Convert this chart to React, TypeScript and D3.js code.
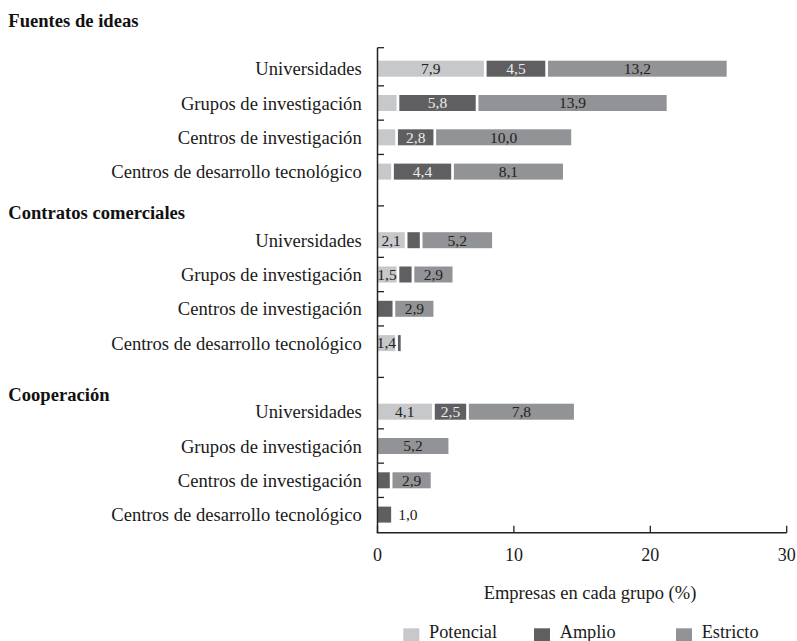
import React from "react";
import * as d3 from "d3";

// ---- Data ----
const groups = ["Fuentes de ideas", "Contratos comerciales", "Cooperación"];
const categories = [
  "Universidades",
  "Grupos de investigación",
  "Centros de investigación",
  "Centros de desarrollo tecnológico",
];
const seriesNames = ["Potencial", "Amplio", "Estricto"];
// values in order: group 0 (4 categories), group 1, group 2
const potencial = [7.9, 1.5, 1.4, 1.1, 2.1, 1.5, 0, 1.4, 4.1, 0, 0, 0];
const amplio = [4.5, 5.8, 2.8, 4.4, 1.1, 1.1, 1.2, 0.3, 2.5, 0, 1.0, 1.0];
const estricto = [13.2, 13.9, 10.0, 8.1, 5.2, 2.9, 2.9, 0, 7.8, 5.2, 2.9, 0];
// whether the value label is printed in the original
const potencialLabeled = [1, 0, 0, 0, 1, 1, 0, 1, 1, 0, 0, 0];
const amplioLabeled = [1, 1, 1, 1, 0, 0, 0, 0, 1, 0, 0, 1];
const estrictoLabeled = [1, 1, 1, 1, 1, 1, 1, 0, 1, 1, 1, 0];
const xTicks = [0, 10, 20, 30];
const xTitle = "Empresas en cada grupo (%)";

const colors = ["#c7c8ca", "#5f5f61", "#929396"];
const labelColors = ["#222", "#ececec", "#222"];

const FONT = "'Liberation Serif', 'Times New Roman', serif";

export default function App() {
  const W = 797;
  const H = 641;
  const x = d3.scaleLinear().domain([0, 30]).range([377.5, 786.7]);
  const nRows = groups.length * (categories.length + 1) - 1; // 14 with blank separators
  const y = d3
    .scaleBand<number>()
    .domain(d3.range(nRows))
    .range([51.55, 51.55 + 34.3 * nRows])
    .padding(0);
  const step = y.step();
  const barH = 16;
  const rowOf = (g: number, c: number) => g * (categories.length + 1) + c;
  const center = (r: number) => (y(r) as number) + step / 2;

  const series = [potencial, amplio, estricto];
  const labeled = [potencialLabeled, amplioLabeled, estrictoLabeled];
  const fmt = (v: number) => d3.format(".1f")(v).replace(".", ",");

  const axisTop = 47.7;
  const axisBottom = 532.7;
  const x0 = x(0);

  // y-axis tick positions
  const yTicks: number[] = [axisTop];
  groups.forEach((_, g) => {
    for (let c = 1; c < categories.length; c++) {
      yTicks.push(y(rowOf(g, c)) as number);
    }
    if (g < groups.length - 1) yTicks.push(center(rowOf(g, categories.length)));
  });

  const headerY = [27.3, 219.3, 401];

  const bars: React.ReactNode[] = [];
  const labels: React.ReactNode[] = [];
  groups.forEach((_, g) => {
    categories.forEach((_, c) => {
      const i = g * categories.length + c;
      const r = rowOf(g, c);
      const cy = center(r);
      let acc = 0;
      const segs: { s: number; a: number; b: number }[] = [];
      series.forEach((arr, s) => {
        const v = arr[i];
        if (v > 0) {
          segs.push({ s, a: acc, b: acc + v });
          acc += v;
        }
      });
      segs.forEach((seg, k) => {
        const gap = 1.35;
        const xa = x(seg.a) + (k > 0 ? gap : 0);
        const xb = x(seg.b) - (k < segs.length - 1 ? gap : 0);
        bars.push(
          <rect
            key={`b-${i}-${seg.s}`}
            x={xa}
            y={cy - barH / 2}
            width={Math.max(0, xb - xa)}
            height={barH}
            fill={colors[seg.s]}
          />
        );
        if (labeled[seg.s][i]) {
          const v = series[seg.s][i];
          const wpx = xb - xa;
          const outside = wpx < 17;
          labels.push(
            <text
              key={`l-${i}-${seg.s}`}
              x={outside ? xb + 7 : (xa + xb) / 2}
              y={cy + 5.3}
              textAnchor={outside ? "start" : "middle"}
              fontSize={15.5}
              fill={outside ? "#222" : labelColors[seg.s]}
            >
              {fmt(v)}
            </text>
          );
        }
      });
    });
  });

  return (
    <svg
      width={W}
      height={H}
      style={{ position: "absolute", left: 0, top: 0, background: "#fff" }}
      fontFamily={FONT}
    >
      <rect x={0} y={0} width={W} height={H} fill="#fff" />
      {groups.map((gname, g) => (
        <text key={gname} x={8.3} y={headerY[g]} fontSize={18.6} fontWeight="bold" fill="#111">
          {gname}
        </text>
      ))}
      {groups.map((_, g) =>
        categories.map((cat, c) => (
          <text
            key={`c-${g}-${c}`}
            x={361.7}
            y={center(rowOf(g, c)) + 6.5}
            textAnchor="end"
            fontSize={18.6}
            fill="#1a1a1a"
          >
            {cat}
          </text>
        ))
      )}
      {bars}
      {labels}
      <line x1={x0} x2={x0} y1={axisTop} y2={axisBottom} stroke="#222" strokeWidth={1.5} />
      {yTicks.map((t, k) => (
        <line key={`yt-${k}`} x1={x0} x2={x0 + 6.5} y1={t} y2={t} stroke="#222" strokeWidth={1.3} />
      ))}
      <line x1={x0 - 0.75} x2={x(30)} y1={axisBottom} y2={axisBottom} stroke="#222" strokeWidth={1.5} />
      {xTicks.map((t) => (
        <g key={`xt-${t}`}>
          <line x1={x(t)} x2={x(t)} y1={axisBottom} y2={axisBottom - 7} stroke="#222" strokeWidth={1.3} />
          <text x={x(t)} y={560.7} textAnchor="middle" fontSize={18} fill="#1a1a1a">
            {t}
          </text>
        </g>
      ))}
      <text x={590} y={599.3} textAnchor="middle" fontSize={18.5} fill="#1a1a1a">
        {xTitle}
      </text>
      {seriesNames.map((name, s) => {
        const sx = [403.3, 534, 676][s];
        return (
          <g key={name}>
            <rect x={sx} y={628.3} width={16} height={14} fill={colors[s]} />
            <text x={sx + 25.7} y={638} fontSize={18.3} fill="#1a1a1a">
              {name}
            </text>
          </g>
        );
      })}
    </svg>
  );
}
